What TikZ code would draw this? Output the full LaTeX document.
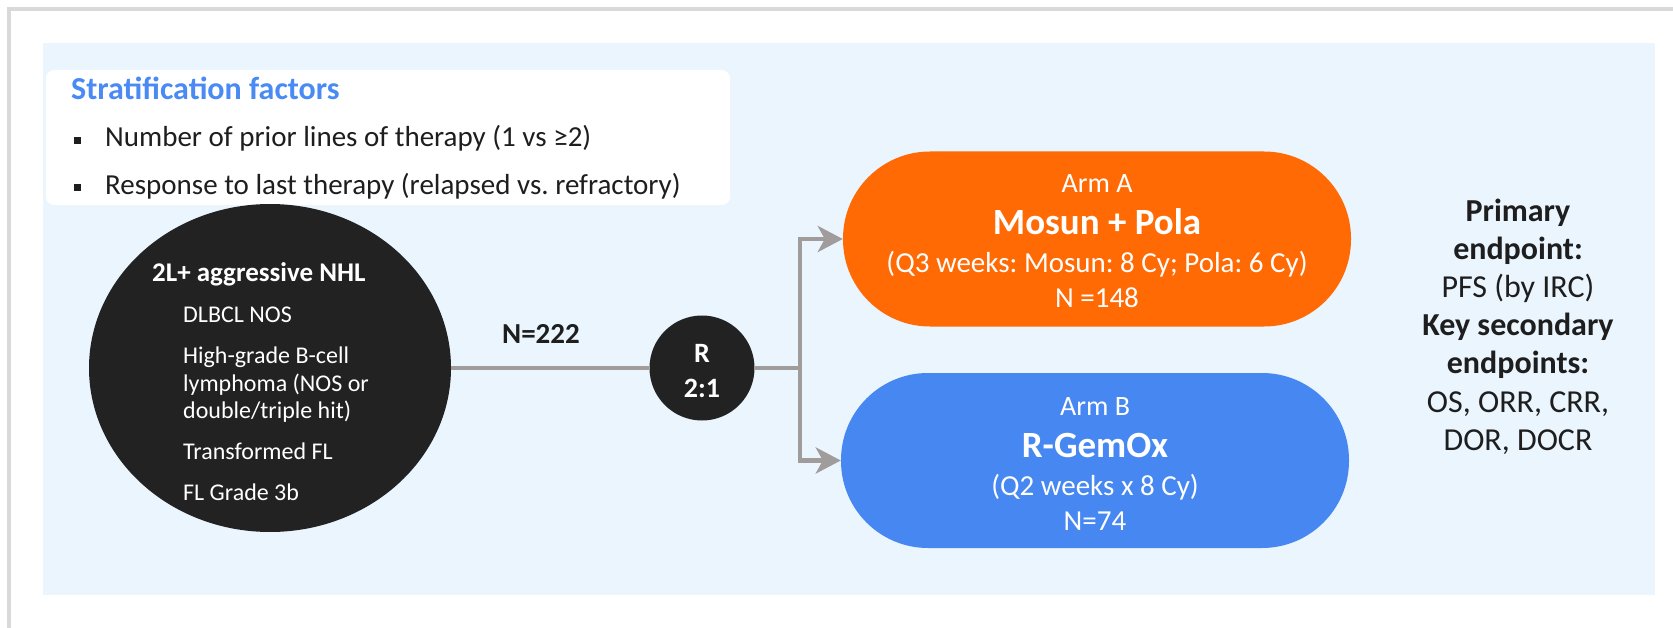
\documentclass[tikz,border=0pt]{standalone}
\usepackage{fontspec}
\setmainfont{Carlito}
\usetikzlibrary{shapes.geometric,arrows.meta}
\definecolor{framegray}{HTML}{D9D9D9}
\definecolor{bgblue}{HTML}{EBF5FE}
\definecolor{titleblue}{HTML}{4A8AF4}
\definecolor{armorange}{HTML}{FF6A04}
\definecolor{armblue}{HTML}{4687F2}
\definecolor{darkfill}{HTML}{222222}
\definecolor{conngray}{HTML}{A09C9C}
\definecolor{txtblack}{HTML}{1E1E1E}
\newcommand\myfs[1]{\fontsize{#1}{#1}\selectfont}
\frenchspacing
\tikzset{
  conn/.style={draw=conngray, line width=4.5pt},
  arrowconn/.style={conn, -{Stealth[length=25pt, width=26pt, inset=7pt]}},
  armbox/.style={rectangle, rounded corners=87pt, minimum width=508pt, minimum height=175pt, inner sep=0pt},
  wtxt/.style={anchor=base, text=white, inner sep=0pt},
  wltxt/.style={anchor=base west, text=white, inner sep=0pt},
  rtxt/.style={anchor=base, text=txtblack, inner sep=0pt},
}
\begin{document}
\begin{tikzpicture}[x=1pt, y=-1pt]
\useasboundingbox (0,0) rectangle (1673,628);
% frame
\draw[framegray, line width=3.5pt] (9,628) -- (9,9) -- (1673,9);
% background
\fill[bgblue] (43,43) rectangle (1655,595);
% stratification box
\fill[white, rounded corners=8pt] (46,70) rectangle (730,205);
\node[anchor=base west, inner sep=0pt, text=titleblue] (strat) at (71,100) {\myfs{32}\bfseries Stratification factors};
\fill[txtblack] (73.5,137) rectangle (80.5,144);
\fill[txtblack] (73.5,184) rectangle (80.5,191);
\node[anchor=base west, inner sep=0pt, text=txtblack] (b1) at (105,147) {\myfs{29}Number of prior lines of therapy (1 vs ≥2)};
\node[anchor=base west, inner sep=0pt, text=txtblack] (b2) at (105,195) {\myfs{29}Response to last therapy (relapsed vs. refractory)};
% population circle
\node[ellipse, fill=darkfill, minimum width=362pt, minimum height=328pt, inner sep=0pt] (nhl) at (270,368) {};
\node[wltxt] (nhlt) at (152,282) {\myfs{27}\bfseries 2L+ aggressive NHL};
\node[wltxt] (p1) at (183,323) {\myfs{24}DLBCL NOS};
\node[wltxt] (p2) at (183,363) {\myfs{24}High-grade B-cell};
\node[wltxt] (p3) at (183,391) {\myfs{24}lymphoma (NOS or};
\node[wltxt] (p4) at (183,418) {\myfs{24}double/triple hit)};
\node[wltxt] (p5) at (183,459) {\myfs{24}Transformed FL};
\node[wltxt] (p6) at (183,500) {\myfs{24}FL Grade 3b};
% N label
\node[rtxt] (ntot) at (541,343) {\myfs{29}\bfseries N=222};
% randomisation
\node[circle, fill=darkfill, minimum size=105pt, inner sep=0pt] (rr) at (702,368) {};
\node[wtxt] (rr1) at (702,362) {\myfs{28}\bfseries R};
\node[wtxt] (rr2) at (702,397) {\myfs{28}\bfseries 2:1};
% arms
\node[armbox, fill=armorange] (armA) at (1097,239) {};
\node[armbox, fill=armblue] (armB) at (1095,460.5) {};
\node[wtxt] (a1) at (1097,193) {\myfs{28}Arm A};
\node[wtxt] (a2) at (1097,235) {\myfs{37}\bfseries Mosun + Pola};
\node[wtxt] (a3) at (1097,273) {\myfs{29}(Q3 weeks: Mosun: 8 Cy; Pola: 6 Cy)};
\node[wtxt] (a4) at (1097,308) {\myfs{29}N =148};
\node[wtxt] (b1a) at (1095,415) {\myfs{28}Arm B};
\node[wtxt] (b2a) at (1095,457) {\myfs{37}\bfseries R-GemOx};
\node[wtxt] (b3a) at (1095,495) {\myfs{29}(Q2 weeks x 8 Cy)};
\node[wtxt] (b4a) at (1095,530) {\myfs{29}N=74};
% connectors
\coordinate (split) at (800,368);
\draw[conn] (nhl.east) -- (rr.west);
\draw[conn] (rr.east) -- (split);
\draw[arrowconn] (split) |- (armA.west);
\draw[arrowconn] (split) |- (armB.west);
% endpoints
\node[rtxt] (e1) at (1518,222) {\myfs{32}\bfseries Primary};
\node[rtxt] (e2) at (1518,260) {\myfs{32}\bfseries endpoint:};
\node[rtxt] (e3) at (1518,298) {\myfs{32}PFS (by IRC)};
\node[rtxt] (e4) at (1518,335) {\myfs{32}\bfseries Key secondary};
\node[rtxt] (e5) at (1518,373) {\myfs{32}\bfseries endpoints:};
\node[rtxt] (e6) at (1518,412) {\myfs{32}OS, ORR, CRR,};
\node[rtxt] (e7) at (1518,450) {\myfs{32}DOR, DOCR};
\end{tikzpicture}
\end{document}
